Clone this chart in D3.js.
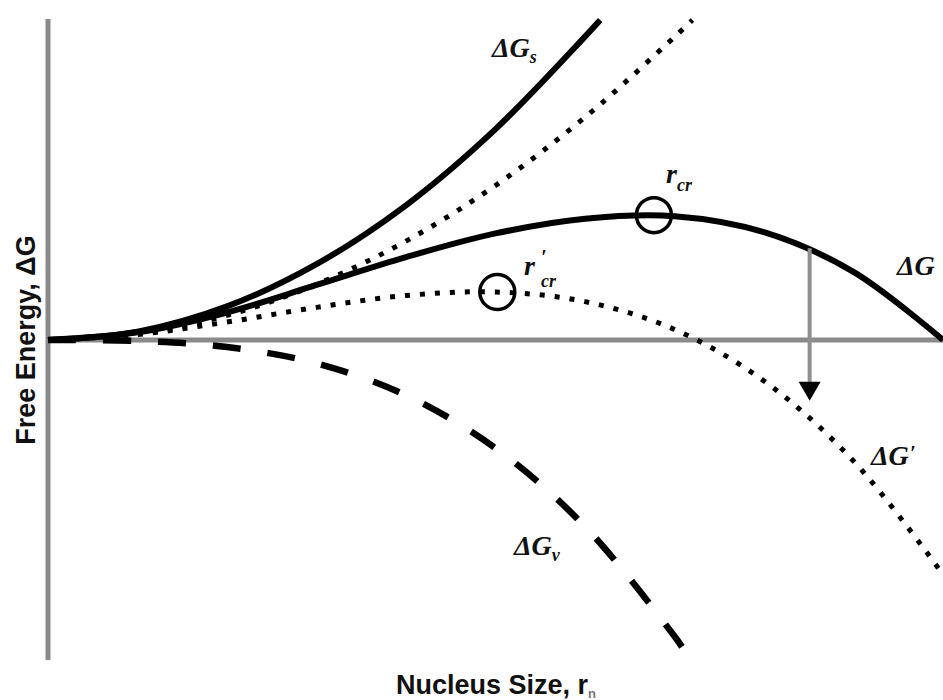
<!DOCTYPE html>
<html>
<head>
<meta charset="utf-8">
<script src="https://cdn.jsdelivr.net/npm/d3@7"></script>
<style>
  html, body { margin: 0; padding: 0; background: #fff; }
  svg { display: block; }
</style>
</head>
<body>
<svg id="chart" width="943" height="700"></svg>
<script>
// ---- Data (r = nucleus size, G = free energy, arbitrary units) ----
const rMain   = [0, 0.1, 0.2, 0.3, 0.4, 0.5, 0.6, 0.7, 0.8, 0.9, 1.0];
const dG      = [0, 0.024, 0.086, 0.172, 0.259, 0.333, 0.379, 0.387, 0.337, 0.213, 0];
const dGprime = [0, 0.017, 0.056, 0.102, 0.139, 0.150, 0.120, 0.033, -0.128, -0.378, -0.733];

const rSurf   = [0, 0.1, 0.2, 0.3, 0.4, 0.5, 0.6, 0.617];
const dGs     = [0, 0.026, 0.105, 0.237, 0.421, 0.659, 0.948, 1.0];

const rSurf2  = [0, 0.1, 0.2, 0.3, 0.4, 0.5, 0.6, 0.7, 0.72];
const dGs2    = [0, 0.019, 0.077, 0.174, 0.309, 0.483, 0.696, 0.947, 1.0];

const rVol    = [0, 0.1, 0.2, 0.3, 0.4, 0.5, 0.6, 0.7, 0.71];
const dGv     = [0, -0.003, -0.022, -0.073, -0.173, -0.338, -0.583, -0.926, -0.966];

const critR   = [0.677, 0.502];
const critG   = [0.390, 0.150];

const arrowR    = 0.851;
const arrowFrom = 0.287;
const arrowTo   = -0.19;

// ---- Layout ----
const svg = d3.select("#chart");
const x = d3.scaleLinear().domain([0, 1]).range([48, 943]);
const y = d3.scaleLinear().domain([-1, 1]).range([660, 20]);

const AXIS = "#8a8a8a";

// axes
svg.append("line").attr("x1", x(0)).attr("x2", x(0)).attr("y1", 19).attr("y2", 660)
  .attr("stroke", AXIS).attr("stroke-width", 5);
svg.append("line").attr("x1", x(0)).attr("x2", x(1)).attr("y1", y(0)).attr("y2", y(0))
  .attr("stroke", AXIS).attr("stroke-width", 5);

function zip(rs, gs) { return rs.map((r, i) => [r, gs[i]]); }
const line = d3.line().x(d => x(d[0])).y(d => y(d[1])).curve(d3.curveCatmullRom.alpha(0.5));

const curves = [
  { pts: zip(rVol, dGv),       width: 6.5, dash: "28 27" },
  { pts: zip(rSurf2, dGs2),    width: 5,   dash: "5 10" },
  { pts: zip(rMain, dGprime),  width: 5,   dash: "5 10" },
  { pts: zip(rSurf, dGs),      width: 6,   dash: null },
  { pts: zip(rMain, dG),       width: 6,   dash: null }
];
curves.forEach(c => {
  svg.append("path").attr("d", line(c.pts))
    .attr("fill", "none").attr("stroke", "#000")
    .attr("stroke-width", c.width)
    .attr("stroke-dasharray", c.dash)
    .attr("stroke-linecap", "butt");
});

// critical radius circles
critR.forEach((r, i) => {
  svg.append("circle").attr("cx", x(r)).attr("cy", y(critG[i])).attr("r", 17.5)
    .attr("fill", "none").attr("stroke", "#000").attr("stroke-width", 3.5);
});

// arrow
const ax = x(arrowR), ay0 = y(arrowFrom), ay1 = y(arrowTo);
svg.append("line").attr("x1", ax).attr("x2", ax).attr("y1", ay0).attr("y2", ay1 - 16)
  .attr("stroke", "#8f8f8f").attr("stroke-width", 4);
svg.append("path")
  .attr("d", `M${ax - 11},${ay1 - 19} L${ax + 11},${ay1 - 19} L${ax},${ay1} Z`)
  .attr("fill", "#000");

// ---- Labels ----
const SERIF = "'Liberation Serif', 'DejaVu Serif', serif";
function mathLabel(px, py, main, sub, opts = {}) {
  const t = svg.append("text").attr("x", px).attr("y", py)
    .attr("font-family", SERIF).attr("font-style", "italic").attr("font-weight", "bold")
    .attr("font-size", opts.size || 28).attr("fill", "#111");
  t.append("tspan").text(main);
  if (sub) t.append("tspan").attr("dy", opts.subDy || 6).attr("font-size", opts.subSize || 18).text(sub);
  return t;
}
mathLabel(492, 57, "ΔG", "s");
mathLabel(666, 183, "r", "cr", { subDy: 8 });
mathLabel(524, 275, "r", null);
mathLabel(541, 281, "", "cr", { subDy: 0 });
svg.append("text").attr("x", 541).attr("y", 264).attr("font-family", SERIF)
  .attr("font-style", "italic").attr("font-weight", "bold").attr("font-size", 20).text("′");
mathLabel(897, 275, "ΔG", null);
mathLabel(871, 465, "ΔG", null);
svg.append("text").attr("x", 910).attr("y", 460).attr("font-family", SERIF)
  .attr("font-style", "italic").attr("font-weight", "bold").attr("font-size", 20).text("′");
mathLabel(514, 555, "ΔG", "v", { subDy: 6 });

// axis titles
const SANS = "'Liberation Sans', Arial, sans-serif";
const xt = svg.append("text").attr("x", 496).attr("y", 694).attr("text-anchor", "middle")
  .attr("font-family", SANS).attr("font-weight", "bold").attr("font-size", 27).attr("fill", "#111");
xt.append("tspan").text("Nucleus Size, r");
xt.append("tspan").attr("dy", 4).attr("font-size", 13).attr("fill", "#777").text("n");

svg.append("text").attr("transform", "translate(35,340) rotate(-90)").attr("text-anchor", "middle")
  .attr("font-family", SANS).attr("font-weight", "bold").attr("font-size", 27).attr("fill", "#111")
  .text("Free Energy, ΔG");
</script>
</body>
</html>
